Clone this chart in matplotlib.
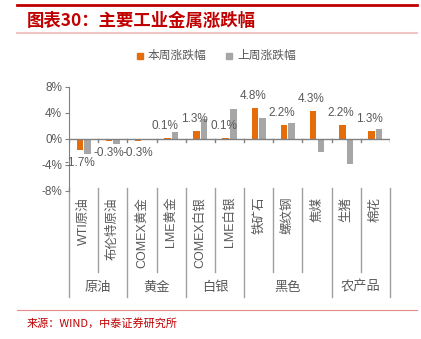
import numpy as np
import matplotlib.pyplot as plt
from matplotlib.lines import Line2D
from matplotlib.patches import Rectangle

plt.rcParams['font.family'] = ['Liberation Sans', 'Noto Sans CJK SC', 'DejaVu Sans']

# data
categories = ['WTI原油', '布伦特原油', 'COMEX黄金', 'LME黄金', 'COMEX白银', 'LME白银',
              '铁矿石', '螺纹钢', '焦煤', '生猪', '棉花']
groups = ['原油', '黄金', '白银', '黑色', '农产品']
group_sizes = [2, 2, 2, 3, 2]
this_week = [-1.7, -0.3, -0.3, 0.1, 1.3, 0.1, 4.8, 2.2, 4.3, 2.2, 1.3]
last_week = [-2.3, -0.7, 0.0, 1.1, 3.0, 4.6, 3.3, 2.5, -2.0, -3.8, 1.5]
yticks = [-8, -4, 0, 4, 8]

orange = '#E46C0A'
gray = '#A6A6A6'
txt = '#595959'
red = '#C00000'

W, H = 421, 339
fig = plt.figure(figsize=(W / 100, H / 100), dpi=100)


def fy(px):
    return 1 - px / H


# header / footer decorations
fig.add_artist(Line2D([17 / W, 417 / W], [fy(5), fy(5)], color=red, lw=2))
fig.add_artist(Line2D([17 / W, 417 / W], [fy(33), fy(33)], color='#F2C4C4', lw=1.5))
fig.add_artist(Line2D([17 / W, 417 / W], [fy(310), fy(310)], color='#E88A8A', lw=0.8))
fig.text(27 / W, fy(21), '图表30：主要工业金属涨跌幅', color=red, fontsize=12.5,
         fontweight='bold', family=['Noto Sans CJK SC', 'DejaVu Sans'], va='center')
fig.text(27 / W, fy(323), '来源：WIND，中泰证券研究所', color=red, fontsize=8,
         family=['Noto Sans CJK SC', 'DejaVu Sans'], va='center')

# legend
fig.add_artist(Rectangle((137 / W, fy(59)), 6 / W, 6 / H, color=orange))
fig.text(148 / W, fy(55), '本周涨跌幅', color=txt, fontsize=8.5,
         family=['Noto Sans CJK SC'], va='center')
fig.add_artist(Rectangle((226 / W, fy(59)), 6 / W, 6 / H, color=gray))
fig.text(237 / W, fy(55), '上周涨跌幅', color=txt, fontsize=8.5,
         family=['Noto Sans CJK SC'], va='center')

# main axes
ax = fig.add_axes([69 / W, fy(191), (390 - 69) / W, (191 - 87) / H])
x = np.arange(len(categories))
bw = 0.22
ax.bar(x - 0.13, this_week, width=bw, color=orange, zorder=3)
ax.bar(x + 0.13, last_week, width=bw, color=gray, zorder=3)

ax.set_xlim(-0.5, len(categories) - 0.5)
ax.set_ylim(-8, 8)
ax.set_yticks(yticks)
ax.set_yticklabels([f'{v}%' for v in yticks], color=txt, fontsize=8.5)
ax.tick_params(axis='y', length=3, color='#808080', pad=2)
ax.set_xticks([])
for s in ['top', 'right', 'bottom']:
    ax.spines[s].set_visible(False)
ax.spines['left'].set_color('#808080')
ax.set_facecolor('none')

# zero line with ticks
ax.axhline(0, color='#808080', lw=1, zorder=4)
for b in np.arange(-0.5, len(categories), 1):
    ax.plot([b, b], [0, -0.5], color='#808080', lw=1, zorder=4)

# value labels for this week
for xi, v in zip(x, this_week):
    if v >= 0:
        ax.text(xi - 0.2, v + 0.9, f'{v:.1f}%', ha='center', va='bottom',
                color=txt, fontsize=8.5)
    else:
        ax.text(xi - 0.13, v - 1.0, f'{v:.1f}%', ha='center', va='top',
                color=txt, fontsize=8.5)

# multi-level category axis below the plot
trans = ax.get_xaxis_transform()
h = 191 - 87
bounds = np.cumsum([0] + group_sizes) - 0.5
for b in np.arange(-0.5, len(categories), 1):
    bottom = 297 if b in bounds else 272
    ax.plot([b, b], [0.03, -(bottom - 191) / h], color='#A0A0A0', lw=1,
            transform=trans, clip_on=False)
for xi, c in zip(x, categories):
    ax.text(xi, -(197 - 191) / h, c, rotation=90, ha='center', va='top',
            color=txt, fontsize=9, transform=trans)
for i, g in enumerate(groups):
    cx = (bounds[i] + bounds[i + 1]) / 2
    ax.text(cx, -(287 - 191) / h, g, ha='center', va='center', color=txt,
            fontsize=9.5, family=['Noto Sans CJK SC'], transform=trans)

fig.savefig('out.png', dpi=100)
